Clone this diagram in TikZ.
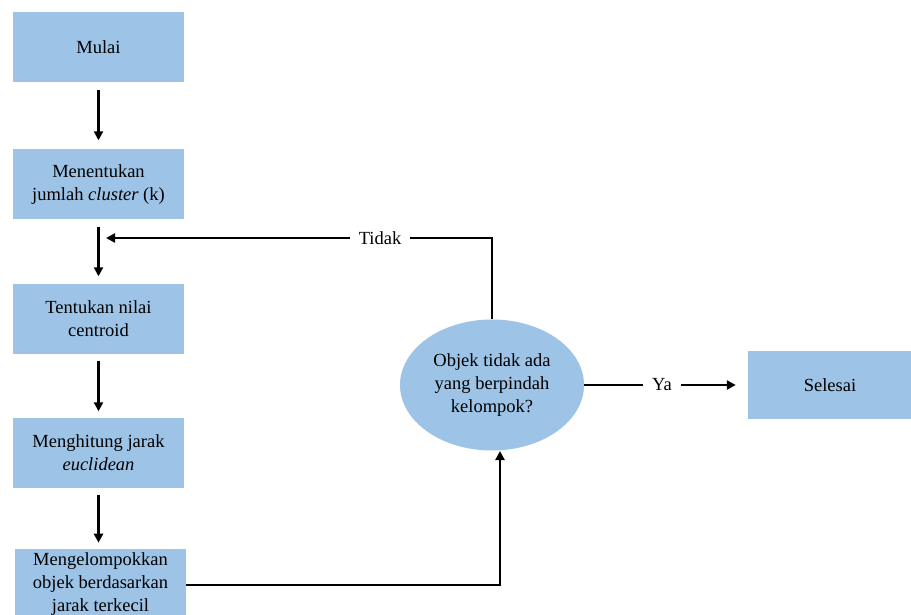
\documentclass[tikz,border=0pt]{standalone}
\usepackage{fontspec}
\setmainfont{Liberation Serif}
\usetikzlibrary{arrows.meta,shapes.geometric,calc}
\definecolor{boxblue}{RGB}{157,195,230}
\tikzset{
  procbox/.style={fill=boxblue, draw=none, minimum width=171pt, minimum height=70pt, align=center, inner sep=2pt, font=\fontsize{18.5}{23}\selectfont},
  decis/.style={ellipse, fill=boxblue, draw=none, minimum width=184pt, minimum height=131pt, align=center, inner sep=0pt, font=\fontsize{18.5}{23}\selectfont},
  lbl/.style={font=\fontsize{18.5}{20}\selectfont, inner xsep=9pt, inner ysep=2pt},
  flow/.style={line width=2.8pt, -{Triangle[length=9pt,width=9pt]}},
  plain/.style={line width=2.8pt}
}
\begin{document}
\begin{tikzpicture}[x=1pt,y=-1pt]
\useasboundingbox (0,0) rectangle (911,615);
\node[procbox] (m1) at (98.5,47) {Mulai};
\node[procbox] (m2) at (98.5,184.5) {Menentukan\\jumlah \textit{cluster} (k)};
\node[procbox] (m3) at (98.5,318.5) {Tentukan nilai\\centroid};
\node[procbox] (m4) at (98.5,452.5) {Menghitung jarak\\\textit{euclidean}};
\node[procbox] (m5) at (100.5,584) {Mengelompokkan\\objek berdasarkan\\jarak terkecil};
\node[decis] (d) at (492,385) {Objek tidak ada\\yang berpindah\\kelompok?};
\node[procbox, minimum width=164pt, minimum height=68pt] (s) at (830,385) {Selesai};
\node[lbl] (tidak) at (380,238) {Tidak};
\node[lbl] (ya) at (662,385) {Ya};
\coordinate (back) at (106,238);

\draw[flow] ($(m1.south)+(0,8)$) -- ($(m2.north)+(0,-9)$);
\draw[flow] ($(m2.south)+(0,7)$) -- ($(m3.north)+(0,-7)$);
\draw[flow] ($(m3.south)+(0,7)$) -- ($(m4.north)+(0,-6)$);
\draw[flow] ($(m4.south)+(0,7)$) -- ($(m4.south)+(0,55)$);
\draw[plain] (d.north) -- (d.north |- tidak.east) -- (tidak.east);
\draw[flow] (tidak.west) -- (back);
\draw[plain] (d.east) -- (ya.west);
\draw[flow] (ya.east) -- (ya.east -| {$(s.west)+(-12,0)$});
\draw[flow] (m5.east |- 0,585) -- (500,585) -- (500,451);
\end{tikzpicture}
\end{document}
